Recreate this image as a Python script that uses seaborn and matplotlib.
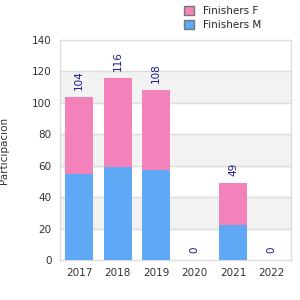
import matplotlib
matplotlib.use("Agg")
import matplotlib.pyplot as plt
import seaborn as sns
import pandas as pd
from matplotlib.patches import Patch

years = ["2017", "2018", "2019", "2020", "2021", "2022"]
finishers_m = [55, 59, 57, 0, 22, 0]
finishers_f = [49, 57, 51, 0, 27, 0]
totals = [m + f for m, f in zip(finishers_m, finishers_f)]

df = pd.DataFrame({"year": years, "M": finishers_m, "total": totals})

sns.set_style("white")
plt.rcParams['font.family'] = ['DejaVu Sans']

pink = "#f382bb"
blue = "#5fa8f5"

fig = plt.figure(figsize=(3, 3), dpi=100)
ax = fig.add_axes([0.2, 0.1333, 0.77, 0.7333])

# alternating bands
for lo in range(20, 140, 40):
    ax.axhspan(lo, lo + 20, color="#f2f2f2", zorder=0)
for y in range(20, 140, 20):
    ax.axhline(y, color="#dddddd", lw=1, zorder=0.5)

sns.barplot(data=df, x="year", y="total", color=pink, width=0.74, ax=ax,
            saturation=1, linewidth=0, zorder=2)
sns.barplot(data=df, x="year", y="M", color=blue, width=0.74, ax=ax,
            saturation=1, linewidth=0, zorder=3)

for i, t in enumerate(totals):
    ax.text(i, t + 4.5, str(t), rotation=90, ha="center", va="bottom",
            color="#1a1a8c", fontsize=7.5, zorder=4)

ax.set_ylim(0, 140)
ax.set_xlim(-0.5, 5.5)
ax.set_yticks(range(0, 141, 20))
ax.set_xlabel("")
ax.set_ylabel("Participación", fontsize=7.5, color="#333333")
ax.yaxis.set_label_coords(-0.22, 0.5)
ax.tick_params(axis="both", length=0, labelsize=7.5, labelcolor="#333333", pad=6)
for s in ax.spines.values():
    s.set_color("#dddddd")
    s.set_linewidth(1)

handles = [Patch(facecolor=pink, edgecolor="#777777", label="Finishers F"),
           Patch(facecolor=blue, edgecolor="#777777", label="Finishers M")]
fig.legend(handles=handles, loc="upper left", bbox_to_anchor=(0.583, 1.01),
           frameon=False, fontsize=7.5, handlelength=0.9, handleheight=0.9,
           labelspacing=0.35, handletextpad=0.9)

fig.savefig("out.png", dpi=100)
